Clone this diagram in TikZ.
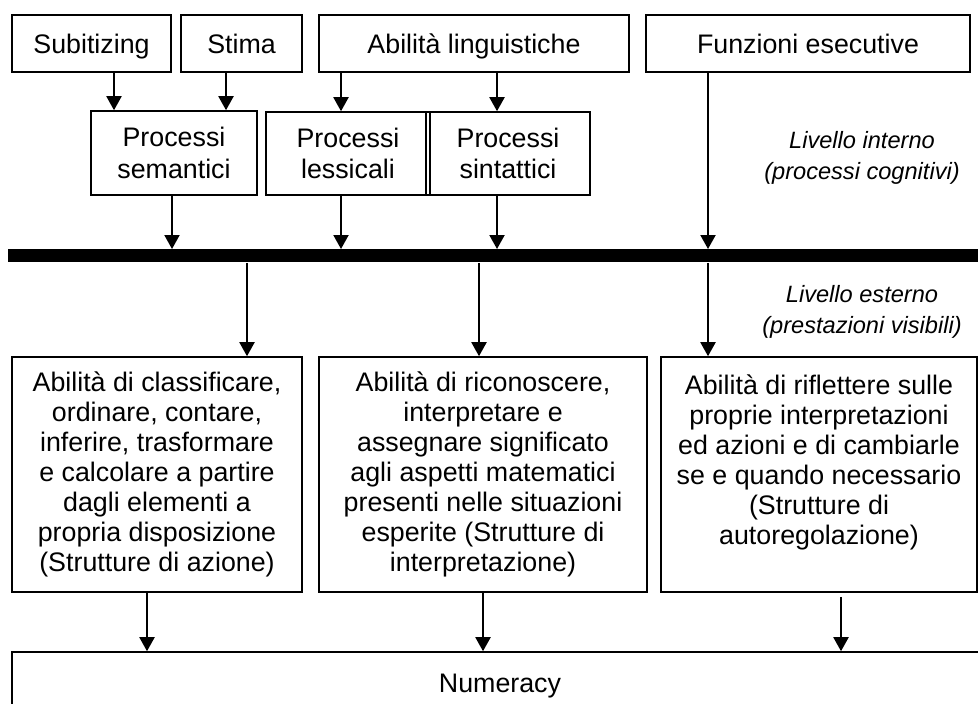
\documentclass[tikz,border=0pt]{standalone}
\usepackage{fontspec}
\setmainfont{Liberation Sans}
\usetikzlibrary{arrows.meta,calc}
\begin{document}
\begin{tikzpicture}[x=0.5pt,y=-0.5pt,
  box/.style={draw, line width=0.8pt, inner sep=0pt, align=center, font=\fontsize{13.4}{15.8}\selectfont},
  onebox/.style={box, text height=9.6pt, text depth=0pt},
  bigbox/.style={box, font=\fontsize{13.4}{15}\selectfont},
  arr/.style={line width=1pt, -{Triangle[length=7pt,width=7.5pt]}},
  lbl/.style={align=center, inner sep=0pt, font=\fontsize{11.8}{15.5}\selectfont\itshape}]
\path[use as bounding box, clip] (0,0) rectangle (978,703);
\fill[white] (0,0) rectangle (978,703);
% top row
\node[onebox, minimum width=79.5pt, minimum height=28.5pt] (sub) at (91.5,43.5) {Subitizing};
\node[onebox, minimum width=60.5pt, minimum height=28.5pt] (stima) at (241.5,43.5) {Stima};
\node[onebox, minimum width=155pt, minimum height=28.5pt] (ling) at (474,43.5) {Abilità linguistiche};
\node[onebox, minimum width=162pt, minimum height=28.5pt] (funz) at (808,43.5) {Funzioni esecutive};
% process row
\node[box, minimum width=83pt, minimum height=42pt] (sem) at (174,153) {Processi\\semantici};
\node[box, minimum width=82pt, minimum height=41.5pt] (less) at (348,153.5) {Processi\\lessicali};
\node[box, minimum width=82pt, minimum height=41.5pt] (sint) at (508,153.5) {Processi\\sintattici};
% labels
\node[lbl] (lint) at (862,158) {Livello interno\\(processi cognitivi)};
\node[lbl] (lest) at (862,312) {Livello esterno\\(prestazioni visibili)};
% bar
\node[fill=black, inner sep=0pt, minimum width=488.5pt, minimum height=6.5pt, anchor=north west] (bar) at (8,249) {};
% bottom boxes
\node[bigbox, minimum width=145pt, minimum height=117.5pt] (b1) at (157,474.5) {Abilità di classificare,\\ordinare, contare,\\inferire, trasformare\\e calcolare a partire\\dagli elementi a\\propria disposizione\\(Strutture di azione)};
\node[bigbox, minimum width=164pt, minimum height=117.5pt] (b2) at (483,474.5) {Abilità di riconoscere,\\interpretare e\\assegnare significato\\agli aspetti matematici\\presenti nelle situazioni\\esperite (Strutture di\\interpretazione)};
\node[bigbox, minimum width=158pt, minimum height=117.5pt] (b3) at (819,474.5) {Abilità di riflettere sulle\\proprie interpretazioni\\ed azioni e di cambiarle\\se e quando necessario\\(Strutture di\\autoregolazione)\\ ~};
\node[onebox, minimum width=488pt, minimum height=31pt] (num) at (500,683) {Numeracy};
% arrow columns
\foreach \c in {114,226,341,497,708,172,247,479,147,483,841}
  \coordinate (c\c) at (\c,0);
\draw[arr] (sub.south -| c114) -- (sem.north -| c114);
\draw[arr] (stima.south -| c226) -- (sem.north -| c226);
\draw[arr] (ling.south -| c341) -- (less.north -| c341);
\draw[arr] (ling.south -| c497) -- (sint.north -| c497);
\draw[arr] (funz.south -| c708) -- (bar.north -| c708);
\draw[arr] (sem.south -| c172) -- (bar.north -| c172);
\draw[arr] (less.south -| c341) -- (bar.north -| c341);
\draw[arr] (sint.south -| c497) -- (bar.north -| c497);
\draw[arr] (bar.south -| c247) -- (b1.north -| c247);
\draw[arr] (bar.south -| c479) -- (b2.north -| c479);
\draw[arr] (bar.south -| c708) -- (b3.north -| c708);
\draw[arr] (b1.south -| c147) -- (num.north -| c147);
\draw[arr] (b2.south -| c483) -- (num.north -| c483);
\draw[arr] ($(b3.south -| c841)+(0,4)$) -- (num.north -| c841);
\end{tikzpicture}
\end{document}
